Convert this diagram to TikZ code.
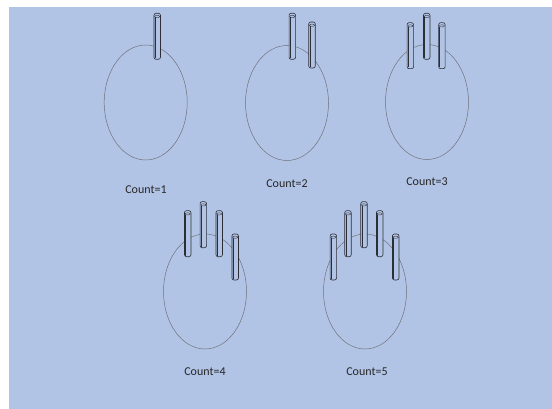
\documentclass[tikz,border=0pt]{standalone}
\usepackage{fontspec}
\setmainfont{Carlito}
\usetikzlibrary{shapes.geometric}
\definecolor{bgblue}{RGB}{178,196,230}
\definecolor{headline}{RGB}{112,112,120}
\definecolor{fingerline}{RGB}{45,45,55}
\tikzset{
  head/.style={ellipse, draw=headline, line width=0.5pt, minimum width=83pt, minimum height=115pt, inner sep=0pt},
  fingerbox/.style={rectangle, rounded corners=2pt, draw=fingerline, fill=bgblue, line width=0.6pt, minimum width=6.5pt, minimum height=46pt, inner sep=0pt},
  countlabel/.style={font=\fontsize{12pt}{14pt}\selectfont, text=black!85, inner sep=0pt}
}
\newcommand{\fingerat}[3]{%
  \node[fingerbox] (#1) at (#2,#3+23) {};
  \draw[fingerline, line width=0.4pt] ([yshift=-3.5pt]#1.north) ellipse[x radius=2.6pt, y radius=1.1pt];
  \draw[fingerline, line width=0.4pt] ([xshift=1.3pt,yshift=-4.5pt]#1.north west) -- ([xshift=1.3pt,yshift=1.5pt]#1.south west);
}
\begin{document}
\begin{tikzpicture}[x=1pt,y=-1pt]
\useasboundingbox (0,0) rectangle (552,409);
\fill[white] (0,0) rectangle (552,409);
\fill[bgblue] (9,7) rectangle (552,409);
% heads
\node[head] (h1) at (145.7,102.5) {};
\node[head] (h2) at (287,103) {};
\node[head] (h3) at (427,102) {};
\node[head] (h4) at (205,291.5) {};
\node[head] (h5) at (365,291.5) {};
% fingers
\fingerat{f11}{157.2}{13.3}
\fingerat{f21}{292.3}{13.3}
\fingerat{f22}{312}{22}
\fingerat{f31}{410.3}{22.7}
\fingerat{f32}{426.7}{13.3}
\fingerat{f33}{441.9}{22.7}
\fingerat{f41}{187.7}{210.7}
\fingerat{f42}{203.3}{201.7}
\fingerat{f43}{219.2}{210.7}
\fingerat{f44}{235.2}{234}
\fingerat{f51}{333.3}{234}
\fingerat{f52}{348}{210.7}
\fingerat{f53}{364}{201.7}
\fingerat{f54}{379.7}{210.7}
\fingerat{f55}{395.7}{234}
% labels
\node[countlabel] (l1) at (146,190) {Count=1};
\node[countlabel] (l2) at (287,184) {Count=2};
\node[countlabel] (l3) at (427,182) {Count=3};
\node[countlabel] (l4) at (205,372) {Count=4};
\node[countlabel] (l5) at (367,372) {Count=5};
\end{tikzpicture}
\end{document}
